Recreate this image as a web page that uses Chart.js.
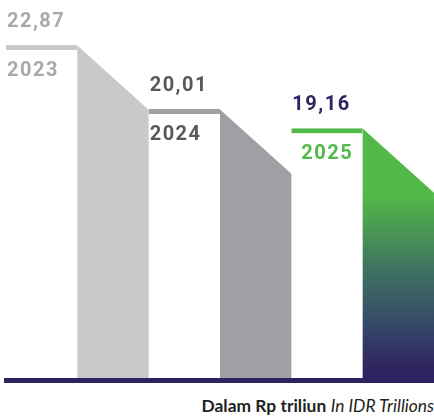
<!DOCTYPE html>
<html>
<head>
<meta charset="utf-8">
<script src="https://cdn.jsdelivr.net/npm/chart.js@4"></script>
<style>
  html, body { margin: 0; padding: 0; background: #fff; }
  #wrap { position: relative; width: 434px; height: 416px; }
  #caption {
    position: absolute; right: 0px; top: 396px;
    font-family: Lato, sans-serif; font-size: 17.4px; line-height: 20px;
    color: #231f20; white-space: nowrap;
  }
  #caption b { font-weight: 700; }
  #caption i { font-weight: 400; }
</style>
</head>
<body>
<div id="wrap">
  <canvas id="chart" width="434" height="390"></canvas>
  <div id="caption"><b>Dalam Rp triliun</b> <i>In IDR Trillions</i></div>
</div>
<script>
// data
const years = ["2023", "2024", "2025"];
const values = [22.87, 20.01, 19.16];
const yMin = 7.9;
const yMax = 24.9;

// colours
const topColors = ["#c8c9cb", "#9fa0a4", "#52b848"];
const valueColors = ["#a7a9ac", "#58595b", "#2e2462"];
const yearColors = ["#a7a9ac", "#58595b", "#52b848"];
const baseColor = "#2e2360";
const yearInset = [1, 1, 10];

// draws the slanted side of each block + the labels
const blockPlugin = {
  id: "blocks",
  afterDatasetsDraw(chart) {
    const ctx = chart.ctx;
    const front = chart.getDatasetMeta(0).data;
    const side = chart.getDatasetMeta(1).data;

    side.forEach((el, i) => {
      const left = el.x - el.width / 2;
      const right = el.x + el.width / 2;
      const drop = el.width * 0.9;
      let fill = topColors[i];
      if (i === 2) {
        const g = ctx.createLinearGradient(0, el.y, 0, el.base);
        g.addColorStop(0, "#52b848");
        g.addColorStop(0.27, "#52b848");
        g.addColorStop(0.55, "#3f7460");
        g.addColorStop(0.8, "#34446a");
        g.addColorStop(0.96, "#2f235f");
        fill = g;
      }
      ctx.save();
      ctx.fillStyle = fill;
      ctx.beginPath();
      ctx.moveTo(left, el.y);
      ctx.lineTo(right, el.y + drop);
      ctx.lineTo(right, el.base);
      ctx.lineTo(left, el.base);
      ctx.closePath();
      ctx.fill();
      ctx.restore();
    });

    front.forEach((el, i) => {
      const left = el.x - el.width / 2;
      ctx.save();
      ctx.font = "bold 20px Roboto, sans-serif";
      ctx.letterSpacing = "1.5px";
      ctx.textBaseline = "alphabetic";
      ctx.textAlign = "left";
      ctx.fillStyle = valueColors[i];
      ctx.fillText(values[i].toFixed(2).replace(".", ","), left + 1, el.y - 18);
      ctx.fillStyle = yearColors[i];
      ctx.fillText(years[i], left + yearInset[i], el.y + 31);
      ctx.restore();
    });
  }
};

new Chart(document.getElementById("chart"), {
  type: "bar",
  data: {
    labels: years,
    datasets: [
      {
        label: "front",
        data: values,
        base: yMin,
        backgroundColor: "#ffffff",
        borderColor: topColors,
        borderWidth: { top: 5, right: 0, bottom: 0, left: 0 },
        borderSkipped: false
      },
      {
        label: "side",
        data: values,
        base: yMin,
        backgroundColor: "rgba(0,0,0,0)",
        borderWidth: 0
      }
    ]
  },
  options: {
    responsive: false,
    animation: false,
    layout: { padding: { left: 6, right: 0, top: 0, bottom: 9.5 } },
    datasets: { bar: { barPercentage: 1, categoryPercentage: 1 } },
    plugins: { legend: { display: false }, tooltip: { enabled: false } },
    scales: {
      x: {
        display: true,
        grid: { display: false, drawTicks: false },
        ticks: { display: false },
        border: { display: true, color: baseColor, width: 5, z: 1 }
      },
      y: {
        display: false,
        beginAtZero: false,
        min: yMin,
        max: yMax
      }
    }
  },
  plugins: [blockPlugin]
});
</script>
</body>
</html>
